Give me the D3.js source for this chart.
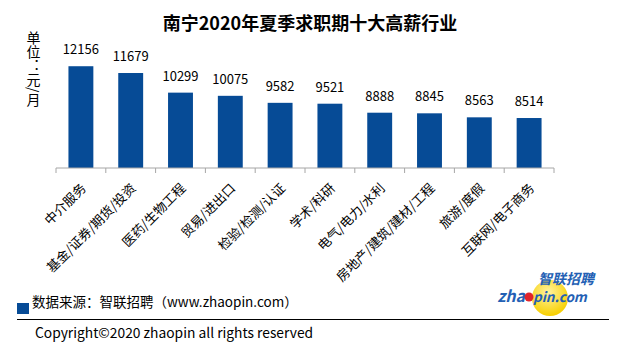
<!DOCTYPE html>
<html>
<head>
<meta charset="utf-8">
<script src="https://cdn.jsdelivr.net/npm/d3@7"></script>
<style>
  body { margin: 0; background: #fff; }
  text { font-family: "Noto Sans CJK SC", "Noto Sans", sans-serif; }
</style>
</head>
<body>
<div id="chart-area"></div>
<script>
// Data
var categories = ["中介服务", "基金/证券/期货/投资", "医药/生物工程", "贸易/进出口", "检验/检测/认证",
  "学术/科研", "电气/电力/水利", "房地产/建筑/建材/工程", "旅游/度假", "互联网/电子商务"];
var salaries = [12156, 11679, 10299, 10075, 9582, 9521, 8888, 8845, 8563, 8514];

var titleText = "南宁2020年夏季求职期十大高薪行业";
var unitText = "单位：元/月";
var sourceText = "数据来源：智联招聘（www.zhaopin.com）";
var copyrightText = "Copyright©2020 zhaopin all rights reserved";

var width = 622, height = 350;
var barColor = "#064b96";

var svg = d3.select("#chart-area").append("svg")
    .attr("width", width)
    .attr("height", height);

// Title
svg.append("text")
  .attr("x", 310)
  .attr("y", 30)
  .attr("text-anchor", "middle")
  .attr("font-size", "18px")
  .attr("font-weight", "bold")
  .attr("fill", "#000")
  .text(titleText);

// Unit label (vertical)
svg.append("text")
  .attr("x", 33.5)
  .attr("y", 31)
  .attr("font-size", "14px")
  .style("writing-mode", "vertical-rl")
  .attr("fill", "#000")
  .text(unitText);

// Scales
var x = d3.scaleBand()
  .domain(categories)
  .range([56, 554])
  .paddingInner(0.5)
  .paddingOuter(0.25);

var y = d3.scaleLinear()
  .domain([5000, 14000])
  .range([168, 40]);

// Bars
svg.selectAll("rect.bar")
  .data(salaries)
  .enter()
  .append("rect")
    .attr("class", "bar")
    .attr("x", (d, i) => x(categories[i]))
    .attr("y", (d) => y(d))
    .attr("width", x.bandwidth())
    .attr("height", (d) => y(5000) - y(d))
    .attr("fill", barColor);

// Value labels
svg.selectAll("text.value")
  .data(salaries)
  .enter()
  .append("text")
    .attr("class", "value")
    .attr("x", (d, i) => x(categories[i]) + x.bandwidth() / 2)
    .attr("y", (d) => y(d) - 12)
    .attr("text-anchor", "middle")
    .attr("font-size", "13px")
    .attr("fill", "#000")
    .text((d) => d);

// X axis line + ticks at band edges
var axisG = svg.append("g")
  .attr("transform", "translate(0," + y(5000) + ")");
axisG.append("line")
  .attr("x1", x.range()[0]).attr("x2", x.range()[1])
  .attr("stroke", "#a6a6a6");
var edges = categories.map((c) => x(c) - x.step() * x.paddingInner() / 2);
edges.push(x.range()[1]);
axisG.selectAll("line.tick")
  .data(edges)
  .enter()
  .append("line")
    .attr("class", "tick")
    .attr("x1", (d) => d).attr("x2", (d) => d)
    .attr("y1", 0).attr("y2", 5)
    .attr("stroke", "#a6a6a6");

// Category labels, rotated
svg.selectAll("text.cat")
  .data(categories)
  .enter()
  .append("text")
    .attr("class", "cat")
    .attr("text-anchor", "end")
    .attr("font-size", "13px")
    .attr("fill", "#000")
    .attr("transform", (d) => "translate(" + (x(d) + x.bandwidth() / 2 + 6) + ",189) rotate(-45)")
    .text((d) => d);

// Source note
svg.append("rect")
  .attr("x", 17).attr("y", 303)
  .attr("width", 12).attr("height", 11)
  .attr("fill", barColor);
svg.append("text")
  .attr("x", 32)
  .attr("y", 307)
  .attr("font-size", "13.5px")
  .attr("fill", "#000")
  .text(sourceText);

// Logo
var logo = svg.append("g");
var grad = svg.append("defs").append("radialGradient")
  .attr("id", "sun").attr("cx", "45%").attr("cy", "35%").attr("r", "65%");
grad.append("stop").attr("offset", "0%").attr("stop-color", "#fff3a0");
grad.append("stop").attr("offset", "100%").attr("stop-color", "#f7cf00");
logo.append("circle")
  .attr("cx", 550).attr("cy", 298).attr("r", 18)
  .attr("fill", "url(#sun)");
logo.append("text")
  .attr("x", 538).attr("y", 284)
  .attr("font-size", "14px")
  .attr("font-weight", "bold")
  .attr("font-style", "italic")
  .attr("fill", "#2360b4")
  .text("智联招聘");
logo.append("text")
  .attr("x", 525).attr("y", 302)
  .attr("text-anchor", "end")
  .attr("font-family", "Liberation Sans")
  .attr("font-size", "16px")
  .attr("font-weight", "bold")
  .attr("font-style", "italic")
  .attr("fill", "#2360b4")
  .text("zha");
logo.append("circle")
  .attr("cx", 529).attr("cy", 297).attr("r", 4.5)
  .attr("fill", "#e0242b");
logo.append("text")
  .attr("x", 533).attr("y", 302)
  .attr("font-family", "Liberation Sans")
  .attr("font-size", "13.5px")
  .attr("font-weight", "bold")
  .attr("font-style", "italic")
  .attr("fill", "#2360b4")
  .text("pin.com");

// Divider and copyright
svg.append("line")
  .attr("x1", 17).attr("x2", 609)
  .attr("y1", 319.5).attr("y2", 319.5)
  .attr("stroke", "#000");
svg.append("text")
  .attr("x", 35)
  .attr("y", 338)
  .attr("font-family", "Open Sans")
  .attr("font-size", "13.8px")
  .attr("fill", "#000")
  .text(copyrightText);
</script>
</body>
</html>
